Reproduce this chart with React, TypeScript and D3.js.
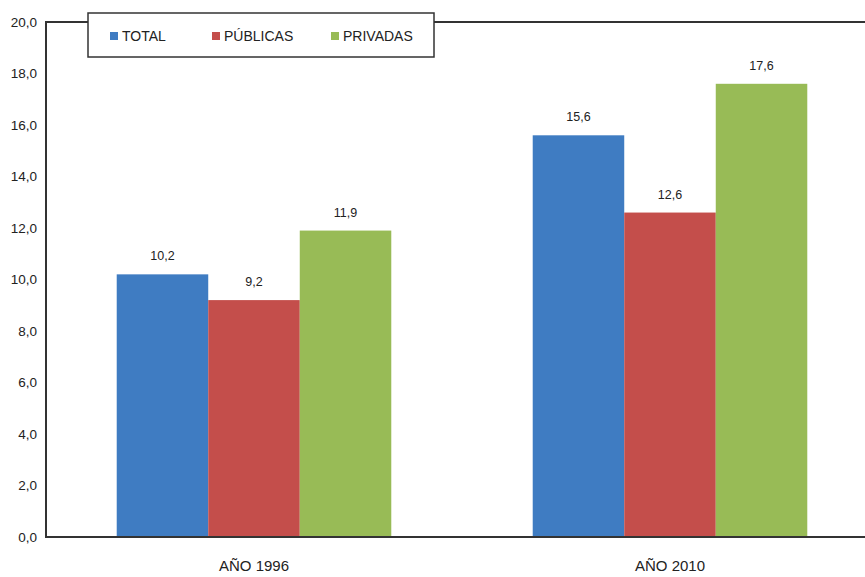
import React from "react";
import * as d3 from "d3";

const categories = ["AÑO 1996", "AÑO 2010"];
const seriesNames = ["TOTAL", "PÚBLICAS", "PRIVADAS"];
const totalValues = [10.2, 15.6];
const publicasValues = [9.2, 12.6];
const privadasValues = [11.9, 17.6];
const yTicks = [0, 2, 4, 6, 8, 10, 12, 14, 16, 18, 20];
const colors = ["#3f7cc2", "#c44e4b", "#98bb56"];

const W = 865;
const H = 577;

export default function App() {
  const seriesValues = [totalValues, publicasValues, privadasValues];
  const y = d3.scaleLinear().domain([0, 20]).range([537, 22]);
  const x0 = d3
    .scaleBand<string>()
    .domain(categories)
    .range([46, 878])
    .paddingInner(0.34)
    .paddingOuter(0.17);
  const x1 = d3
    .scaleBand<string>()
    .domain(seriesNames)
    .range([0, x0.bandwidth()])
    .padding(0);
  const fmt = (v: number) => v.toFixed(1).replace(".", ",");
  const font = "'Liberation Sans', Arial, sans-serif";

  const legendX = [110, 212, 331];

  return (
    <svg
      width={W}
      height={H}
      style={{ position: "absolute", left: 0, top: 0, background: "#fff" }}
      fontFamily={font}
    >
      {/* bars */}
      {categories.map((c, ci) =>
        seriesNames.map((s, si) => {
          const v = seriesValues[si][ci];
          const bx = (x0(c) as number) + (x1(s) as number);
          return (
            <g key={c + s}>
              <rect
                x={bx}
                y={y(v)}
                width={x1.bandwidth()}
                height={y(0) - y(v)}
                fill={colors[si]}
              />
              <text
                x={bx + x1.bandwidth() / 2}
                y={y(v) - 14}
                textAnchor="middle"
                fontSize={12.5}
                fill="#222"
              >
                {fmt(v)}
              </text>
            </g>
          );
        })
      )}
      {/* axes frame */}
      <line x1={46} x2={865} y1={22} y2={22} stroke="#333" strokeWidth={2} />
      <line x1={46} x2={865} y1={537} y2={537} stroke="#333" strokeWidth={2} />
      <line x1={46} x2={46} y1={21} y2={538} stroke="#333" strokeWidth={2} />
      {/* y tick labels */}
      {yTicks.map((t) => (
        <text
          key={t}
          x={37}
          y={y(t)}
          dy="0.35em"
          textAnchor="end"
          fontSize={13.5}
          fill="#222"
        >
          {fmt(t)}
        </text>
      ))}
      {/* x labels */}
      {categories.map((c) => (
        <text
          key={c}
          x={(x0(c) as number) + x0.bandwidth() / 2}
          y={571}
          textAnchor="middle"
          fontSize={15}
          fill="#222"
        >
          {c}
        </text>
      ))}
      {/* legend */}
      <rect x={88} y={13} width={346} height={44} fill="#fff" stroke="#333" strokeWidth={1.5} />
      {seriesNames.map((s, i) => (
        <g key={s}>
          <rect x={legendX[i]} y={32} width={8} height={8} fill={colors[i]} />
          <text x={legendX[i] + 12} y={41} fontSize={14} fill="#222">
            {s}
          </text>
        </g>
      ))}
    </svg>
  );
}
